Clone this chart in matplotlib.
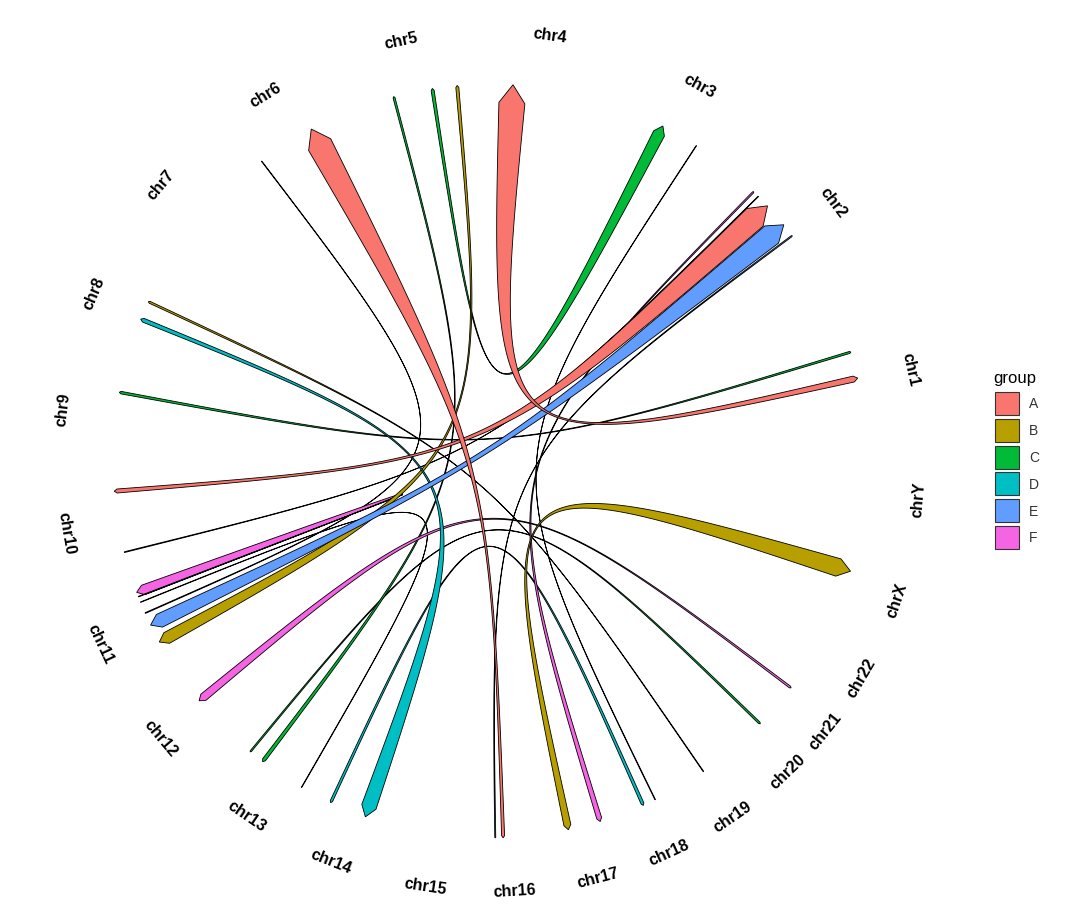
import numpy as np
import matplotlib
matplotlib.use('Agg')
import matplotlib.pyplot as plt
from matplotlib.path import Path
from matplotlib.patches import PathPatch, Rectangle

# ---------------- data ----------------
chroms = ['chr1', 'chr2', 'chr3', 'chr4', 'chr5', 'chr6', 'chr7', 'chr8', 'chr9',
          'chr10', 'chr11', 'chr12', 'chr13', 'chr14', 'chr15', 'chr16', 'chr17',
          'chr18', 'chr19', 'chr20', 'chr21', 'chr22', 'chrX', 'chrY']
chrom_angle = [12.4, 37.1, 60.9, 82.0, 102.0, 121.5, 140.0, 157.0, 173.0,
               189.6, 205.0, 220.0, 235.6, 248.3, 261.3, 273.3, 284.5,
               294.6, 304.4, 313.8, 321.2, 329.8, 341.2, 355.0]

groups = ['A', 'B', 'C', 'D', 'E', 'F']
group_colors = ['#F8766D', '#B79F00', '#00BA38', '#00BFC4', '#619CFF', '#F564E3']

# links: start angle, end angle (degrees on the circle), widths at each end, group
link_from = [36.7, 44.6, 127.3, 240.0, 56.8, 155.0, 230.5, 245.0, 16.8, 45.6,
             232.9, 219.5, 200.4, 62.7, 208.7, 250.7, 343.0, 38.8, 42.6, 118.3, 86.5]
link_to = [270.8, 194.0, 203.8, 202.0, 296.0, 304.5, 315.8, 294.0, 169.5, 287.0,
           104.8, 323.0, 201.1, 98.8, 95.0, 157.9, 282.0, 205.8, 184.6, 272.0, 12.7]
link_w_from = [1.2, 0.6, 0.5, 0.5, 0.5, 2.0, 1.5, 2.5, 2.0, 1.5,
               3.5, 8.0, 10.0, 12.0, 12.0, 15.0, 18.0, 22.0, 24.0, 25.0, 26.0]
link_w_to = [1.0, 0.8, 0.8, 0.5, 0.6, 0.6, 2.0, 3.0, 2.5, 5.0,
             2.0, 2.0, 0.6, 3.0, 3.0, 4.0, 7.0, 14.0, 4.0, 3.0, 6.0]
link_group = ['E', 'F', 'F', 'F', 'D', 'B', 'C', 'D', 'C', 'F',
              'C', 'F', 'F', 'C', 'B', 'D', 'B', 'E', 'A', 'A', 'A']

# ---------------- figure ----------------
W, H = 1080, 920
CX, CY = 490, 462
fig = plt.figure(figsize=(W / 100, H / 100), dpi=100)
ax = fig.add_axes([0, 0, 1, 1])
ax.set_xlim(-CX, W - CX)
ax.set_ylim(-(H - CY), CY)
ax.axis('off')

R = 377.0      # radius of arrow tips
R_LAB = 430.0  # radius of labels
color_of = dict(zip(groups, group_colors))


def pol(ang_deg, r):
    a = np.deg2rad(ang_deg)
    return np.array([r * np.cos(a), r * np.sin(a)])


def end_geom(ang, w):
    h = 0.7 * w
    rs = R - h
    half = np.rad2deg((w / 2.0) / rs)
    lo = pol(ang - half, rs)
    hi = pol(ang + half, rs)
    apex = pol(ang, R)
    return lo, hi, apex


def bez(p0, p3, n=200):
    t = np.linspace(0, 1, n)[:, None]
    # cubic Bezier with both control points at the centre
    return (1 - t) ** 3 * p0 + t ** 3 * p3


for a, b, wa, wb, g in zip(link_from, link_to, link_w_from, link_w_to, link_group):
    a_lo, a_hi, a_ap = end_geom(a, wa)
    b_lo, b_hi, b_ap = end_geom(b, wb)
    e1 = bez(a_hi, b_lo)
    e2 = bez(b_hi, a_lo)
    pts = np.vstack([a_ap[None, :], e1, b_ap[None, :], e2, a_ap[None, :]])
    codes = [Path.MOVETO] + [Path.LINETO] * (len(pts) - 2) + [Path.CLOSEPOLY]
    patch = PathPatch(Path(pts, codes), facecolor=color_of[g], edgecolor='black',
                      linewidth=0.6, joinstyle='miter')
    ax.add_patch(patch)

# chromosome labels
for name, ang in zip(chroms, chrom_angle):
    x, y = pol(ang, R_LAB)
    rot = ang - 90
    if rot > 90:
        rot -= 180
    if rot < -90:
        rot += 180
    ax.text(x, y, name, rotation=rot, rotation_mode='anchor', ha='center', va='center',
            fontsize=11.5, fontweight='bold', family=['Liberation Sans', 'DejaVu Sans'],
            color='black')


# legend (pixel-based positions converted to data coords)
def px(xp, yp):
    return xp - CX, CY - yp


tx, ty = px(993, 378)
ax.text(tx, ty, 'group', ha='left', va='center', fontsize=12,
        family=['Liberation Sans', 'DejaVu Sans'], color='black')
for i, (g, c) in enumerate(zip(groups, group_colors)):
    top = 393 + i * 26.8
    x0, y0 = px(995, top + 23)
    ax.add_patch(Rectangle((x0, y0), 24, 23, facecolor=c, edgecolor='#333333',
                           linewidth=0.8))
    lx, ly = px(1029, top + 11.5)
    ax.text(lx, ly, g, ha='left', va='center', fontsize=10,
            family=['Liberation Sans', 'DejaVu Sans'], color='#333333')

fig.savefig('out.png', dpi=100, facecolor='white')
